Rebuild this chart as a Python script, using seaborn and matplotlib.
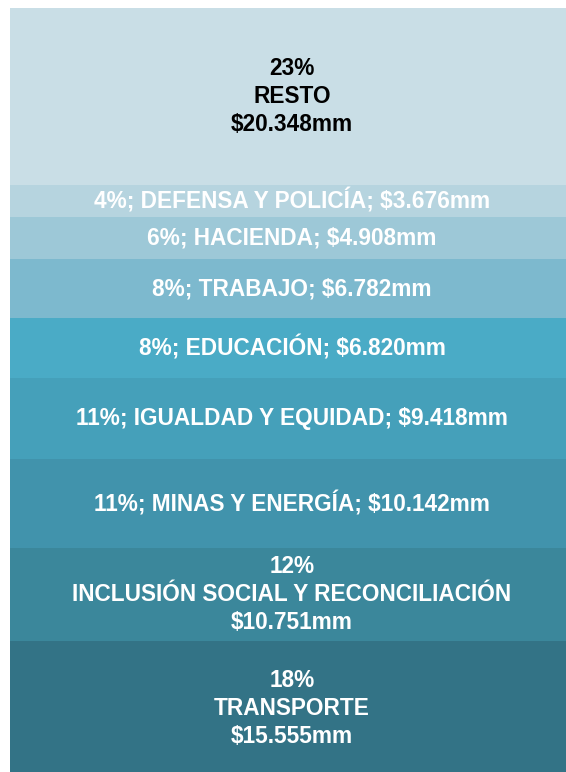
import seaborn as sns
import pandas as pd
import numpy as np
import matplotlib.pyplot as plt

# Budget by sector, from the bottom of the bar to the top (values in mil millones)
sectors = ['TRANSPORTE', 'INCLUSIÓN SOCIAL Y RECONCILIACIÓN', 'MINAS Y ENERGÍA',
           'IGUALDAD Y EQUIDAD', 'EDUCACIÓN', 'TRABAJO', 'HACIENDA',
           'DEFENSA Y POLICÍA', 'RESTO']
values = [15555, 10751, 10142, 9418, 6820, 6782, 4908, 3676, 20348]
colors = ['#337386', '#3B879B', '#4193AC', '#45A0BA', '#4AABC6',
          '#7DB9CE', '#9DC8D7', '#B6D4DF', '#C9DEE6']
# segments whose label goes on three lines
stacked_labels = ['TRANSPORTE', 'INCLUSIÓN SOCIAL Y RECONCILIACIÓN', 'RESTO']

df = pd.DataFrame({'sector': sectors, 'value': values, 'color': colors})
total = df['value'].sum()
df['pct'] = (df['value'] / total * 100).round().astype(int)
df['top'] = df['value'].cumsum()
df['bottom'] = df['top'] - df['value']

sns.set_style('white')
plt.rcParams['font.family'] = ['Liberation Sans', 'DejaVu Sans']

fig = plt.figure(figsize=(5.66, 7.72), dpi=100)
# the bar runs a little past the right edge of the picture
ax = fig.add_axes([10 / 566, 0, 564 / 566, 764 / 772])

# stacked bar: draw cumulative totals from the top segment down so each covers the next
for i in reversed(range(len(df))):
    sns.barplot(x=[''], y=[df['top'].iloc[i]], color=df['color'].iloc[i],
                width=1, saturation=1, edgecolor='none', linewidth=0, ax=ax)

for _, row in df.iterrows():
    money = '$' + f"{row['value'] / 1000:.3f}" + 'mm'
    if row['sector'] in stacked_labels:
        label = f"{row['pct']}%\n{row['sector']}\n{money}"
    else:
        label = f"{row['pct']}%; {row['sector']}; {money}"
    txt_color = 'black' if row['sector'] == 'RESTO' else 'white'
    ax.text(0, (row['top'] + row['bottom']) / 2, label, ha='center', va='center',
            fontsize=16.3, fontweight='bold', color=txt_color, linespacing=1.28)

ax.set_xlim(-0.5, 0.5)
ax.set_ylim(total - 764 / 8.69 * 1000, total)
ax.axis('off')

fig.savefig('out.png', dpi=100)
